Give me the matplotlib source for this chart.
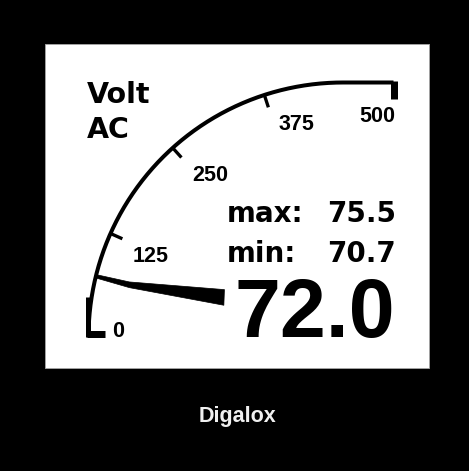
import numpy as np
import matplotlib
matplotlib.use("Agg")
import matplotlib.pyplot as plt
from matplotlib.patches import Rectangle, Polygon

# ---------------- data ----------------
quantity_lines = ["Volt", "AC"]
scale_min, scale_max = 0, 500
tick_values = [0, 125, 250, 375, 500]
tick_labels = ["0", "125", "250", "375", "500"]
reading = 72.0
reading_max = 75.5
reading_min = 70.7
stat_labels = ["max:", "min:"]
stat_values = [reading_max, reading_min]
brand = "Digalox"

# ---------------- canvas ----------------
W, H = 469, 471
PX = 0.72  # points per pixel at dpi 100
fig = plt.figure(figsize=(W / 100, H / 100), dpi=100, facecolor="black")
ax = fig.add_axes([0, 0, 1, 1])
ax.set_xlim(0, W)
ax.set_ylim(H, 0)
ax.axis("off")
ax.set_facecolor("black")

# white display panel
ax.add_patch(Rectangle((45, 44), 384, 324, facecolor="white",
                       edgecolor="#a0a0a0", lw=1 * PX, zorder=1))

# ---------------- gauge geometry ----------------
CX, CY, R = 343.0, 337.0, 254.5
ARC_SPAN = 96.0      # degrees of "scale" for full range (last 6 = straight part)
STRAIGHT = 50.5      # length of straight run at the top


def val_to_deg(v):
    return (v - scale_min) / (scale_max - scale_min) * ARC_SPAN


def gauge_point(deg, r=R):
    deg = np.asarray(deg, dtype=float)
    t = np.radians(np.minimum(deg, 90.0))
    x = CX - r * np.cos(t)
    y = CY - r * np.sin(t)
    extra = np.clip(deg - 90.0, 0, None) / (ARC_SPAN - 90.0) * STRAIGHT
    return x + extra, y


F_LAB = ["Liberation Sans", "DejaVu Sans"]
F_TXT = ["DejaVu Sans"]

# arc + straight part
degs = np.concatenate([np.linspace(0, 90, 300), [ARC_SPAN]])
gx, gy = gauge_point(degs)
ax.plot(gx, gy, color="black", lw=4 * PX, solid_capstyle="butt", zorder=3)

# start foot (L shape) and end bar
x0, y0 = gauge_point(val_to_deg(scale_min))
ax.plot([x0 - 1.5, x0 + 16.5], [y0 - 3.5, y0 - 3.5], color="black",
        lw=7 * PX, solid_capstyle="butt", zorder=3)
ax.plot([x0 - 0.5, x0 - 0.5], [y0 - 40, y0], color="black",
        lw=5 * PX, solid_capstyle="butt", zorder=3)
xe, ye = gauge_point(val_to_deg(scale_max))
ax.plot([xe, xe], [ye - 1.5, ye + 16.5], color="black",
        lw=7 * PX, solid_capstyle="butt", zorder=3)

# intermediate ticks + labels
for v, lab in zip(tick_values, tick_labels):
    d = val_to_deg(v)
    if v == scale_min:
        ax.text(x0 + 23.5, y0, lab, ha="left", va="baseline",
                fontsize=15.5, fontweight="bold", family=F_LAB, zorder=4)
        continue
    if v == scale_max:
        ax.text(xe + 2.0, ye + 23.5, lab, ha="right", va="top",
                fontsize=15.5, fontweight="bold", family=F_LAB, zorder=4)
        continue
    xo, yo = gauge_point(d, R + 1)
    xi, yi = gauge_point(d, R - 13)
    ax.plot([xo, xi], [yo, yi], color="black", lw=3.3 * PX,
            solid_capstyle="butt", zorder=3)
    ax.text(xi + 10.5, yi + 7, lab, ha="left", va="top",
            fontsize=15.5, fontweight="bold", family=F_LAB, zorder=4)

# needle (tapered wedge starting on the arc)
nd = val_to_deg(reading)
tx, ty = gauge_point(nd)
phi = np.radians(nd - 4.4)
needle_u = [0.0, 34.0, 129.0, 131.0, 35.0, 0.0]
needle_w = [-1.6, 0.2, -7.8, 7.7, 5.8, 1.7]
pts = [(tx + u * np.cos(phi) - w * np.sin(phi),
        ty + u * np.sin(phi) + w * np.cos(phi))
       for u, w in zip(needle_u, needle_w)]
ax.add_patch(Polygon(pts, closed=True, facecolor="black", edgecolor="black",
                     lw=0.5, joinstyle="round", zorder=4))

# ---------------- texts ----------------
for i, line in enumerate(quantity_lines):
    ax.text(86.5, 103.3 + 35 * i, line, ha="left", va="baseline",
            fontsize=20.5, fontweight="bold", family=F_TXT, color="black",
            zorder=4)

for i, (lab, val) in enumerate(zip(stat_labels, stat_values)):
    yb = 221.7 + 40.3 * i
    ax.text(226.5, yb, lab, ha="left", va="baseline",
            fontsize=20, fontweight="bold", family=F_TXT, zorder=4)
    ax.text(396, yb, f"{val:.1f}", ha="right", va="baseline",
            fontsize=20, fontweight="bold", family=F_TXT, zorder=4)

ax.text(395, 337, f"{reading:.1f}", ha="right", va="baseline",
        fontsize=59.5, fontweight="bold", family=F_LAB, zorder=5)

ax.text(238, 422.3, brand, ha="center", va="baseline", color="#f0f0f0",
        fontsize=15.5, fontweight="bold", family=F_LAB, zorder=4)

fig.savefig("out.png", dpi=100, facecolor="black")
